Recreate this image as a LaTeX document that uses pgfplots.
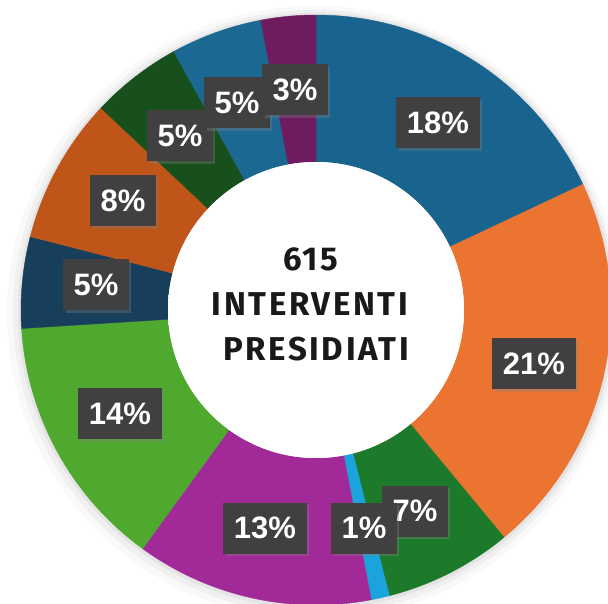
\documentclass[border=0pt]{standalone}
\usepackage{pgfplots}
\pgfplotsset{compat=1.18}
\usepackage{pgfplotstable}
\usepackage{fontspec}
\usetikzlibrary{shadows}
\setmainfont{Liberation Sans}
\newfontfamily\labfont{Liberation Sans}
\newfontfamily\cenfont{Fira Sans}[LetterSpace=8]

\definecolor{cA}{HTML}{19648E}
\definecolor{cB}{HTML}{EC7431}
\definecolor{cC}{HTML}{1E7A2B}
\definecolor{cD}{HTML}{1BA3DD}
\definecolor{cE}{HTML}{A12A98}
\definecolor{cF}{HTML}{4FA92F}
\definecolor{cG}{HTML}{173F5C}
\definecolor{cH}{HTML}{BF5518}
\definecolor{cI}{HTML}{17501D}
\definecolor{cJ}{HTML}{1B6893}
\definecolor{cK}{HTML}{6E1B5F}
\definecolor{boxgray}{HTML}{404040}

\pgfdeclareradialshading{hole}{\pgfpoint{0bp}{0bp}}{color(0bp)=(white); color(42bp)=(white); color(50bp)=(black!10)}

\pgfplotstableread{
pct col
18 cA
21 cB
7 cC
1 cD
13 cE
14 cF
5 cG
8 cH
5 cI
5 cJ
3 cK
}\slices

\tikzset{lab/.style={fill=boxgray, text=white, font=\labfont\bfseries\fontsize{31}{31}\selectfont,
  minimum height=51pt, inner xsep=10.5pt, inner ysep=0pt,
  drop shadow={opacity=0.35, shadow xshift=2.5pt, shadow yshift=-2.5pt}}}

\begin{document}
\begin{tikzpicture}
\begin{axis}[at={(0,0)}, anchor=south west, x=1pt, y=1pt, scale only axis,
  xmin=-316, xmax=292, ymin=-293, ymax=310, hide axis, clip=true]
% soft outer shadow
\fill[black, opacity=0.025] (axis cs:-2,-3) circle[radius=307pt];
\fill[black, opacity=0.035] (axis cs:-1,-2) circle[radius=302pt];
\fill[black, opacity=0.05] (axis cs:0,-1) circle[radius=298pt];
% slices
\gdef\start{90}
\pgfplotsforeachungrouped \i in {0,...,10}{%
  \pgfplotstablegetelem{\i}{pct}\of\slices \let\p\pgfplotsretval
  \pgfplotstablegetelem{\i}{col}\of\slices \let\c\pgfplotsretval
  \pgfmathsetmacro\stop{\start-3.6*\p}%
  \edef\tmp{\noexpand\addplot[fill=\c, draw=\c, line width=0.4pt, domain=\stop:\start, samples=80, variable=\noexpand\t]
    ({295*cos(\noexpand\t)},{295*sin(\noexpand\t)}) -- (axis cs:0,0) -- cycle;}%
  \tmp
  \global\let\start\stop
}
% hole
\fill[white] (axis cs:0,0) circle[radius=148pt];
\shade[shading=hole] (axis cs:0,0) circle[radius=148pt];
% center text
\node[anchor=base, font=\cenfont\bfseries\fontsize{33}{33}\selectfont, text=black!90] at (axis cs:-5,39) {615};
\node[anchor=base, font=\cenfont\bfseries\fontsize{33}{33}\selectfont, text=black!90] at (axis cs:-6,-6) {INTERVENTI};
\node[anchor=base, font=\cenfont\bfseries\fontsize{33}{33}\selectfont, text=black!90] at (axis cs:0,-51) {PRESIDIATI};
% labels
\node[lab] at (axis cs:122,187) {18\%};
\node[lab] at (axis cs:218,-54) {21\%};
\node[lab] at (axis cs:99,-201) {7\%};
\node[lab] at (axis cs:48,-218) {1\%};
\node[lab] at (axis cs:-51,-218) {13\%};
\node[lab] at (axis cs:-196,-104) {14\%};
\node[lab] at (axis cs:-220,25) {5\%};
\node[lab] at (axis cs:-193,109) {8\%};
\node[lab] at (axis cs:-136,174) {5\%};
\node[lab] at (axis cs:-79,207) {5\%};
\node[lab] at (axis cs:-21,220) {3\%};
\end{axis}
\pgfresetboundingbox
\path[use as bounding box] (0,0) rectangle (608pt,603pt);
\end{tikzpicture}
\end{document}
